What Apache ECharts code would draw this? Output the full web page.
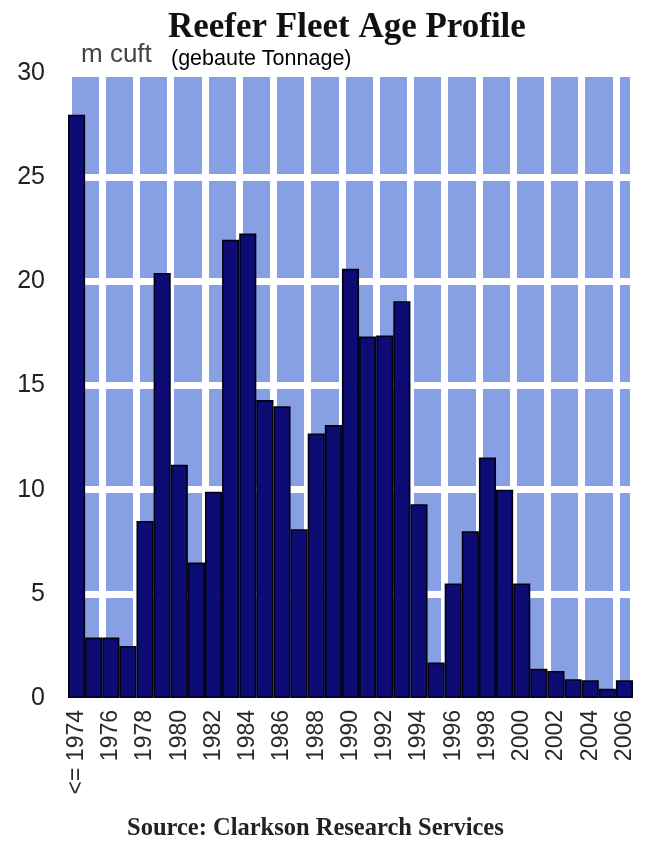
<!DOCTYPE html>
<html>
<head>
<meta charset="utf-8">
<script src="https://cdn.jsdelivr.net/npm/echarts@6/dist/echarts.min.js"></script>
<style>
html,body{margin:0;padding:0;background:#fff;}
#c{width:646px;height:842px;}
</style>
</head>
<body>
<div id="c"></div>
<script>
var categories = ['<= 1974','1975','1976','1977','1978','1979','1980','1981','1982','1983','1984','1985','1986','1987','1988','1989','1990','1991','1992','1993','1994','1995','1996','1997','1998','1999','2000','2001','2002','2003','2004','2005','2006'];
var tonnage = [28.0, 2.9, 2.9, 2.5, 8.5, 20.4, 11.2, 6.5, 9.9, 22.0, 22.3, 14.3, 14.0, 8.1, 12.7, 13.1, 20.6, 17.35, 17.4, 19.05, 9.3, 1.7, 5.5, 8.0, 11.55, 10.0, 5.5, 1.4, 1.3, 0.9, 0.85, 0.45, 0.85];
var yTicks = {min: 0, max: 30, interval: 5};
var titleText = 'Reefer Fleet Age Profile';
var unitText = 'm cuft';
var noteText = '(gebaute Tonnage)';
var sourceText = 'Source: Clarkson Research Services';

var chart = echarts.init(document.getElementById('c'), null, {renderer: 'canvas'});
chart.setOption({
  backgroundColor: '#ffffff',
  animation: false,
  title: [
    {text: titleText, left: 163, top: 5,
     textStyle: {fontFamily: 'Liberation Serif', fontWeight: 'bold', fontSize: 35, color: '#111'}},
    {text: unitText, left: 76, top: 37,
     textStyle: {fontFamily: 'Liberation Sans', fontWeight: 'normal', fontSize: 26, color: '#444'}},
    {text: noteText, left: 166, top: 43,
     textStyle: {fontFamily: 'Liberation Sans', fontWeight: 'normal', fontSize: 21.5, color: '#000'}},
    {text: sourceText, left: 122, top: 811,
     textStyle: {fontFamily: 'Liberation Serif', fontWeight: 'bold', fontSize: 24.5, color: '#222'}}
  ],
  grid: {left: 68, right: 13, top: 73, bottom: 144, show: true, backgroundColor: '#86a0e3', borderWidth: 0},
  xAxis: {
    type: 'category',
    data: categories,
    boundaryGap: true,
    axisLine: {show: false},
    axisTick: {show: false},
    splitLine: {show: true, interval: 1, lineStyle: {color: '#ffffff', width: 7}},
    axisLabel: {interval: 1, rotate: 90, margin: 12, fontFamily: 'Liberation Sans', fontSize: 23, color: '#2a2a2a'}
  },
  yAxis: {
    type: 'value',
    min: yTicks.min, max: yTicks.max, interval: yTicks.interval,
    axisLine: {show: false},
    axisTick: {show: false},
    splitLine: {show: true, lineStyle: {color: '#ffffff', width: 7}},
    axisLabel: {margin: 23, fontFamily: 'Liberation Sans', fontSize: 25, color: '#222', padding: [0, 0, 9, 0]}
  },
  series: [{
    type: 'bar',
    data: tonnage,
    barCategoryGap: '0%',
    itemStyle: {color: '#0c0c74', borderColor: '#000010', borderWidth: 1.6}
  }]
});
</script>
</body>
</html>
